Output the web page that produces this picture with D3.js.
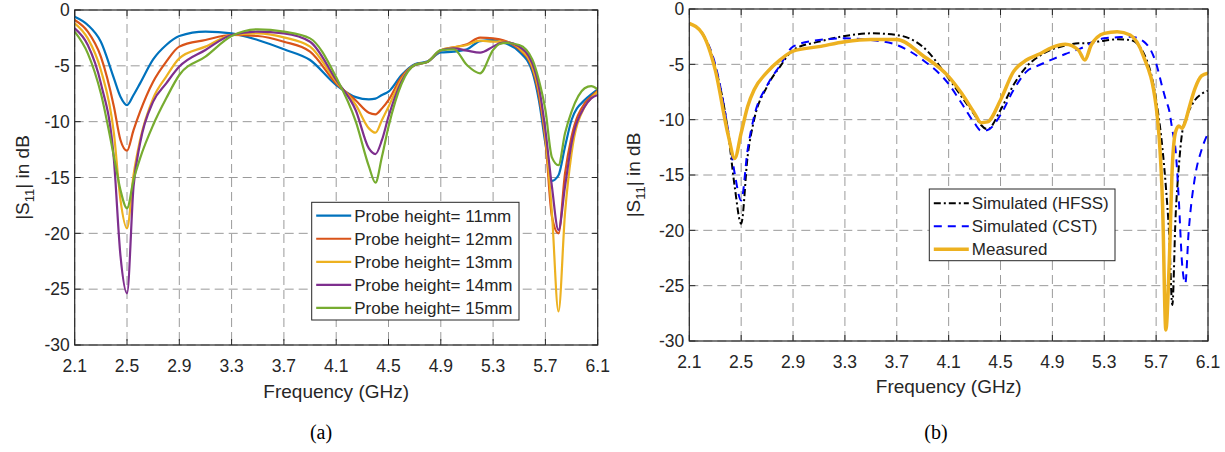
<!DOCTYPE html>
<html>
<head>
<meta charset="utf-8">
<script src="https://cdn.jsdelivr.net/npm/d3@7"></script>
<style>
  body { margin: 0; background: #fff; }
  text { font-family: "Liberation Sans", Arial, sans-serif; fill: #262626; }
</style>
</head>
<body>
<script>
// ---------- data ----------
// panel (a): probe height sweep
var freqA = [2.1, 2.2, 2.3, 2.4, 2.45, 2.5, 2.55, 2.6, 2.7, 2.8, 2.9, 3.1, 3.3, 3.5, 3.7, 3.9,
  4.1, 4.25, 4.35, 4.4, 4.45, 4.5, 4.6, 4.7, 4.8, 4.9, 5.0, 5.1, 5.2, 5.3, 5.35, 5.4, 5.5,
  5.6, 5.65, 5.7, 5.75, 5.8, 5.85, 5.9, 6.0, 6.05, 6.1];
var probe11 = [-0.6, -1.34, -2.84, -6.12, -7.76, -8.51, -7.61, -6.57, -4.42, -3.13, -2.33, -1.94, -2.09, -2.69, -3.52, -4.48,
  -6.72, -7.8, -8.0, -7.94, -7.61, -7.31, -5.82, -4.85, -4.6, -3.8, -3.73, -3.52, -2.78, -2.69, -2.84, -3.0, -3.73,
  -5.52, -8.06, -11.94, -15.3, -14.8, -12.24, -9.85, -8.06, -7.55, -7.1];
var probe12 = [-0.9, -1.94, -4.18, -8.66, -11.64, -12.6, -10.75, -9.1, -6.42, -4.63, -3.28, -2.69, -2.24, -2.33, -2.84, -3.73,
  -6.57, -8.1, -9.2, -9.34, -8.81, -8.06, -6.0, -4.93, -4.63, -3.6, -3.34, -3.07, -2.48, -2.54, -2.63, -2.8, -3.52,
  -5.22, -7.61, -11.64, -18.5, -20.0, -14.63, -11.34, -8.36, -7.76, -7.22];
var probe13 = [-1.19, -2.54, -5.37, -11.04, -17.0, -19.55, -14.78, -11.64, -7.91, -5.97, -4.33, -3.28, -2.24, -2.09, -2.45, -3.28,
  -6.42, -8.5, -10.6, -10.99, -9.85, -8.66, -6.2, -4.93, -4.63, -3.6, -3.34, -3.13, -2.75, -2.84, -2.84, -2.85, -3.43,
  -5.07, -7.22, -11.34, -18.2, -27.0, -18.21, -12.84, -8.66, -7.91, -7.31];
var probe14 = [-1.64, -3.13, -6.57, -13.43, -22.0, -25.37, -15.82, -11.94, -8.21, -6.57, -5.07, -3.58, -2.24, -1.94, -2.09, -2.84,
  -6.27, -9.0, -12.4, -12.9, -11.64, -9.55, -6.4, -4.93, -4.63, -3.6, -3.43, -3.64, -3.82, -3.28, -2.99, -2.9, -3.28,
  -4.78, -6.87, -10.75, -15.82, -19.7, -15.82, -11.94, -8.66, -7.91, -7.61];
var probe15 = [-1.94, -3.88, -7.46, -13.13, -16.12, -17.76, -15.22, -13.28, -10.3, -7.91, -5.82, -4.18, -2.33, -1.73, -1.94, -2.54,
  -6.03, -10.0, -14.0, -15.46, -13.13, -10.45, -6.6, -4.93, -4.63, -3.6, -3.52, -4.93, -5.67, -3.58, -3.04, -2.95, -3.13,
  -4.42, -6.27, -8.96, -13.2, -13.9, -11.04, -9.1, -7.01, -6.81, -7.1];
var probeNames = ["Probe height= 11mm", "Probe height= 12mm", "Probe height= 13mm", "Probe height= 14mm", "Probe height= 15mm"];

// panel (b): simulated vs measured
var freqB = [2.1, 2.2, 2.3, 2.4, 2.45, 2.5, 2.55, 2.6, 2.7, 2.8, 2.9, 3.1, 3.3, 3.5, 3.7, 3.9,
  4.1, 4.2, 4.3, 4.35, 4.4, 4.5, 4.6, 4.7, 4.8, 4.9, 5.0, 5.1, 5.15, 5.2, 5.3, 5.4, 5.5, 5.6,
  5.7, 5.75, 5.775, 5.8, 5.825, 5.85, 5.875, 5.9, 5.925, 5.95, 6.0, 6.05, 6.1];
var hfss = [-1.3, -2.2, -5.2, -11.2, -16.05, -19.4, -13.3, -10.0, -7.0, -5.2, -3.7, -2.95, -2.44, -2.2, -2.35, -3.4,
  -6.27, -7.92, -9.58, -10.48, -10.87, -9.13, -6.87, -5.21, -4.25, -3.64, -3.31, -3.1, -3.1, -3.04, -2.86, -2.74, -2.8, -3.9,
  -8.2, -12.74, -16.05, -20.27, -26.75, -18.77, -14.25, -11.23, -10.03, -9.28, -8.22, -7.68, -7.38];
var cst = [-1.3, -2.2, -5.0, -11.0, -14.85, -17.3, -12.7, -9.7, -6.9, -5.1, -3.4, -2.8, -2.65, -2.8, -3.25, -4.6,
  -6.78, -8.52, -10.33, -10.99, -10.93, -9.58, -7.32, -5.66, -5.06, -4.55, -4.07, -3.64, -3.4, -3.04, -2.65, -2.56, -2.5, -2.9,
  -4.91, -7.17, -8.22, -9.13, -10.93, -12.74, -17.26, -22.98, -24.8, -20.27, -15.15, -12.74, -11.23];
var measured = [-1.3, -2.2, -5.5, -11.4, -13.5, -11.2, -8.8, -7.3, -5.7, -4.6, -3.8, -3.4, -2.95, -2.75, -2.75, -4.2,
  -6.11, -7.62, -9.43, -10.27, -10.2, -8.22, -5.66, -4.61, -4.07, -3.46, -3.19, -3.7, -4.61, -3.25, -2.2, -2.05, -2.35, -4.2,
  -8.8, -17.86, -29.0, -23.3, -14.2, -11.1, -10.57, -10.78, -10.18, -9.13, -7.17, -6.05, -5.81];
var measNames = ["Simulated (HFSS)", "Simulated (CST)", "Measured"];

// axes
var xTicks = [2.1, 2.5, 2.9, 3.3, 3.7, 4.1, 4.5, 4.9, 5.3, 5.7, 6.1];
var yTicks = [0, -5, -10, -15, -20, -25, -30];

// ---------- drawing ----------
var width = 1225;
var height = 452;
var svg = d3.select("body").append("svg").attr("width", width).attr("height", height);
svg.append("rect").attr("width", width).attr("height", height).attr("fill", "#fff");

function drawPanel(p) {
  var x = d3.scaleLinear().domain([2.1, 6.1]).range([p.left, p.right]);
  var y = d3.scaleLinear().domain([-30, 0]).range([p.bottom, p.top]);
  var g = svg.append("g");

  // grid
  xTicks.forEach(function (t) {
    g.append("line").attr("x1", x(t)).attr("x2", x(t)).attr("y1", p.top).attr("y2", p.bottom)
      .attr("stroke", "#9a9a9a").attr("stroke-width", 1).attr("stroke-dasharray", "9,5");
  });
  yTicks.forEach(function (t) {
    g.append("line").attr("x1", p.left).attr("x2", p.right).attr("y1", y(t)).attr("y2", y(t))
      .attr("stroke", "#9a9a9a").attr("stroke-width", 1).attr("stroke-dasharray", "9,5");
  });

  // curves
  var clipId = "clip" + p.id;
  svg.append("clipPath").attr("id", clipId).append("rect")
    .attr("x", p.left).attr("y", p.top).attr("width", p.right - p.left).attr("height", p.bottom - p.top);
  var line = d3.line().curve(d3.curveMonotoneX)
    .x(function (d) { return x(d[0]); })
    .y(function (d) { return y(d[1]); });
  p.series.forEach(function (s) {
    var pts = s.values.map(function (v, i) { return [p.freq[i], v]; });
    var path = g.append("path").attr("d", line(pts))
      .attr("clip-path", "url(#" + clipId + ")")
      .attr("fill", "none").attr("stroke", s.color).attr("stroke-width", s.width)
      .attr("stroke-linejoin", "round");
    if (s.dash) path.attr("stroke-dasharray", s.dash);
  });

  // box and inward ticks on all four sides
  var dark = "#262626";
  var tk = 6;
  xTicks.forEach(function (t) {
    g.append("line").attr("x1", x(t)).attr("x2", x(t)).attr("y1", p.bottom).attr("y2", p.bottom - tk).attr("stroke", dark);
    g.append("line").attr("x1", x(t)).attr("x2", x(t)).attr("y1", p.top).attr("y2", p.top + tk).attr("stroke", dark);
    g.append("text").attr("x", x(t)).attr("y", p.bottom + 27).attr("text-anchor", "middle")
      .attr("font-size", "17.5px").text(d3.format(".1f")(t));
  });
  yTicks.forEach(function (t) {
    g.append("line").attr("x1", p.left).attr("x2", p.left + tk).attr("y1", y(t)).attr("y2", y(t)).attr("stroke", dark);
    g.append("line").attr("x1", p.right).attr("x2", p.right - tk).attr("y1", y(t)).attr("y2", y(t)).attr("stroke", dark);
    g.append("text").attr("x", p.left - 5).attr("y", y(t)).attr("dy", "0.36em").attr("text-anchor", "end")
      .attr("font-size", "17.5px").text(t === 0 ? "0" : "-" + Math.abs(t));
  });
  g.append("rect").attr("x", p.left).attr("y", p.top).attr("width", p.right - p.left).attr("height", p.bottom - p.top)
    .attr("fill", "none").attr("stroke", dark).attr("stroke-width", 1.2);

  // axis labels
  g.append("text").attr("x", (p.left + p.right) / 2).attr("y", p.xLabelY).attr("text-anchor", "middle")
    .attr("font-size", "19px").text("Frequency (GHz)");
  var yl = g.append("text").attr("transform", "translate(" + p.yLabelX + "," + (p.top + p.bottom) / 2 + ") rotate(-90)")
    .attr("text-anchor", "middle").attr("font-size", "19px");
  yl.append("tspan").text("|S");
  yl.append("tspan").attr("font-size", "13px").attr("dy", 5).text("11");
  yl.append("tspan").attr("dy", -5).text("| in dB");

  // legend
  var L = p.legend;
  g.append("rect").attr("x", L.x).attr("y", L.y).attr("width", L.w).attr("height", L.h)
    .attr("fill", "#fff").attr("stroke", dark).attr("stroke-width", 1);
  p.series.forEach(function (s, i) {
    var ry = L.y + L.first + i * L.step;
    var seg = g.append("line").attr("x1", L.x + 4.5).attr("x2", L.x + 39.5).attr("y1", ry).attr("y2", ry)
      .attr("stroke", s.color).attr("stroke-width", s.width);
    if (s.dash) seg.attr("stroke-dasharray", s.dash);
    g.append("text").attr("x", L.x + 42.5).attr("y", ry).attr("dy", "0.36em")
      .attr("font-size", "17px").attr("fill", "#000").text(s.name);
  });

  // caption
  svg.append("text").attr("x", p.captionX).attr("y", 439).attr("text-anchor", "middle")
    .style("font-family", "'Liberation Serif', 'DejaVu Serif', serif").style("fill", "#000")
    .attr("font-size", "20px").text(p.caption);
}

var colorsA = ["#0072BD", "#D95319", "#EDB120", "#7E2F8E", "#77AC30"];
var valuesA = [probe11, probe12, probe13, probe14, probe15];

drawPanel({
  id: "a", left: 74.7, right: 597.7, top: 10, bottom: 345,
  freq: freqA,
  series: valuesA.map(function (v, i) {
    return { values: v, name: probeNames[i], color: colorsA[i], width: 2.2 };
  }),
  xLabelY: 397.5, yLabelX: 28.5,
  legend: { x: 311.7, y: 202.3, w: 207.3, h: 117.7, first: 13.4, step: 23.05 },
  caption: "(a)", captionX: 321
});

drawPanel({
  id: "b", left: 689.3, right: 1208, top: 9, bottom: 341,
  freq: freqB,
  series: [
    { values: hfss, name: measNames[0], color: "#000", width: 2, dash: "7,3,2,3" },
    { values: cst, name: measNames[1], color: "#0000FF", width: 2, dash: "8,6" },
    { values: measured, name: measNames[2], color: "#EDB120", width: 3.5 }
  ],
  xLabelY: 392.7, yLabelX: 640,
  legend: { x: 929.3, y: 189, w: 185.7, h: 71.7, first: 14.3, step: 23 },
  caption: "(b)", captionX: 936
});
</script>
</body>
</html>
